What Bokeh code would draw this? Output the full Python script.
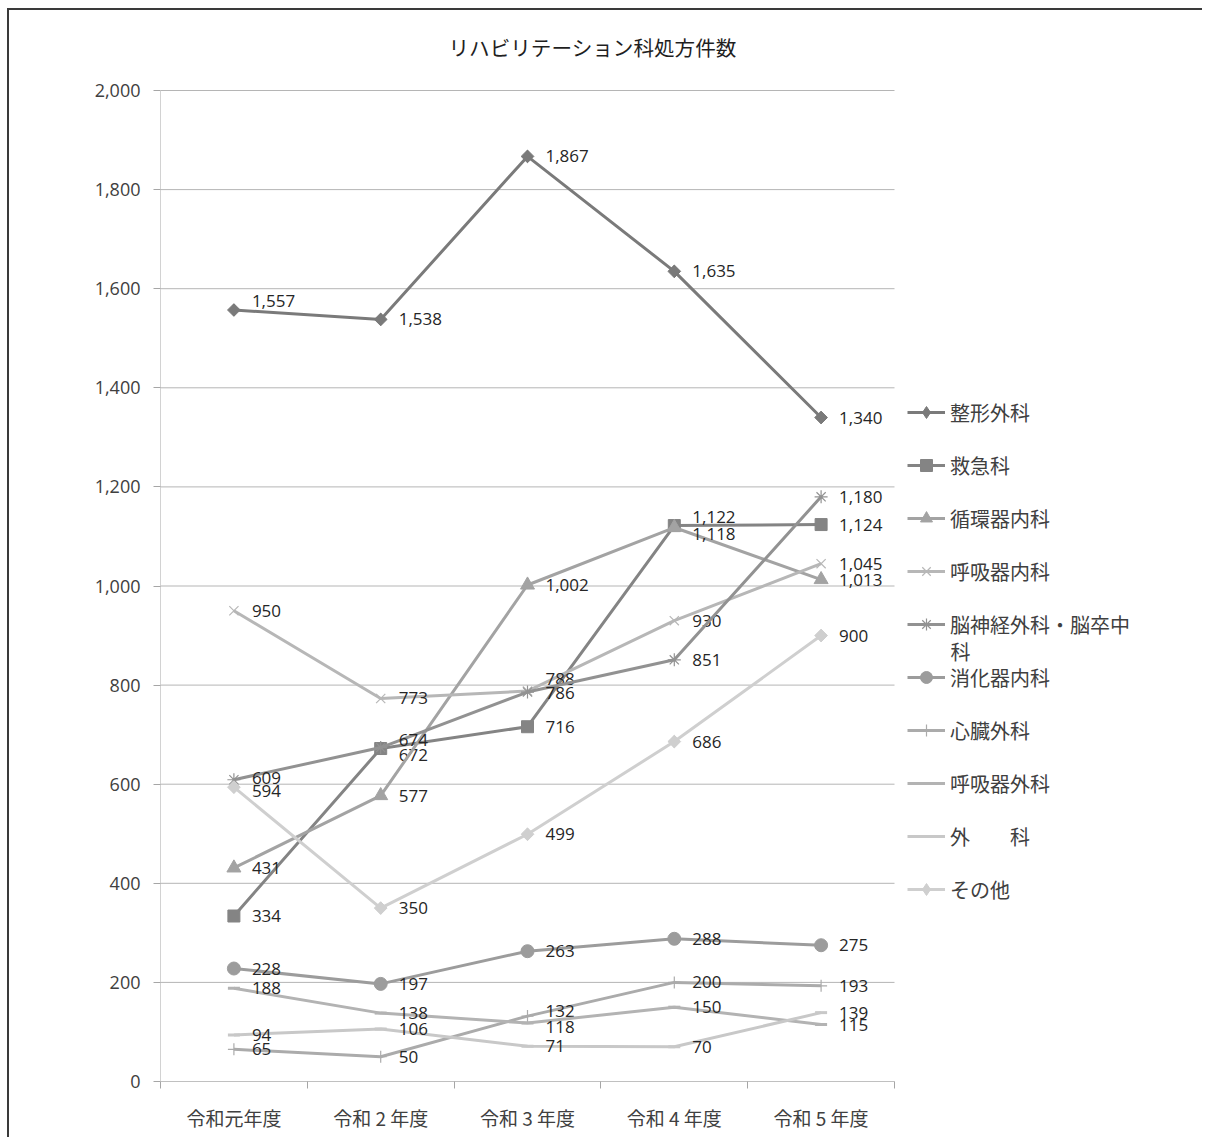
import numpy as np
from bokeh.plotting import figure
from bokeh.models import (ColumnDataSource, FixedTicker, NumeralTickFormatter, Legend,
                          LegendItem, Label, Range1d)
from bokeh.core.properties import value
from bokeh.embed import file_html
from bokeh.resources import INLINE

# ---- data -------------------------------------------------------------
years = ["令和元年度", "令和 2 年度", "令和 3 年度", "令和 4 年度", "令和 5 年度"]

departments = ["整形外科", "救急科", "循環器内科", "呼吸器内科", "脳神経外科・脳卒中科",
               "消化器内科", "心臓外科", "呼吸器外科", "外\u3000\u3000科", "その他"]

seikei_geka = [1557, 1538, 1867, 1635, 1340]
kyukyu = [334, 672, 716, 1122, 1124]
junkanki_naika = [431, 577, 1002, 1118, 1013]
kokyuki_naika = [950, 773, 788, 930, 1045]
noshinkei = [609, 674, 786, 851, 1180]
shokaki_naika = [228, 197, 263, 288, 275]
shinzo_geka = [65, 50, 132, 200, 193]
kokyuki_geka = [188, 138, 118, 150, 115]
geka = [94, 106, 71, 70, 139]
sonota = [594, 350, 499, 686, 900]

series = [seikei_geka, kyukyu, junkanki_naika, kokyuki_naika, noshinkei,
          shokaki_naika, shinzo_geka, kokyuki_geka, geka, sonota]

y_ticks = list(range(0, 2001, 200))
Y_MAX = 2000
N_CAT = len(years)

# ---- styling ----------------------------------------------------------
# (colour, marker, marker size, marker angle, marker line width)
styles = [
    ("#7a7a7a", "square", 9, np.pi / 4, 1),
    ("#848484", "square", 12, 0, 1),
    ("#a3a3a3", "triangle", 14, 0, 1),
    ("#b7b7b7", "x", 13, 0, 1.2),
    ("#929292", "asterisk", 13, 0, 1.2),
    ("#9c9c9c", "circle", 13, 0, 1),
    ("#ababab", "cross", 12, 0, 1.2),
    ("#b3b3b3", "dash", 12, 0, 3),
    ("#c8c8c8", "dash", 12, 0, 3),
    ("#cfcfcf", "square", 9, np.pi / 4, 1),
]

# vertical nudges (px, downwards) for value labels that would collide
label_nudge = {(0, 0): -9, (1, 3): -9, (2, 3): 6, (3, 2): -12, (4, 2): 1,
               (4, 1): -8, (1, 1): 6, (4, 0): -2, (9, 0): 4, (6, 2): -5, (7, 2): 4}

JP = "Noto Sans CJK JP"
NUM = "Open Sans"
AXIS_GREY = "#a6a6a6"
xs = [i + 0.5 for i in range(N_CAT)]

# page geometry (px): the plotting frame also hosts title and legend,
# the value axes occupy only the left part of it
CANVAS_W, CANVAS_H = 1195, 1129
ORIGIN_X, ORIGIN_Y = 9, 10          # canvas offset inside the page (margin + border)
AX_LEFT, AX_RIGHT = 160, 894        # plot area horizontal extent on the page
AX_TOP, AX_BOTTOM = 90, 1081        # plot area vertical extent on the page
frame_right = ORIGIN_X + CANVAS_W
x_end = N_CAT * (frame_right - AX_LEFT) / (AX_RIGHT - AX_LEFT)
y_end = Y_MAX * (AX_BOTTOM - ORIGIN_Y) / (AX_BOTTOM - AX_TOP)

p = figure(width=CANVAS_W, height=CANVAS_H,
           x_range=Range1d(0, x_end), y_range=Range1d(0, y_end),
           output_backend="svg", toolbar_location=None,
           min_border_left=AX_LEFT - ORIGIN_X, min_border_right=0, min_border_top=0,
           min_border_bottom=ORIGIN_Y + CANVAS_H - AX_BOTTOM)
p.margin = (8, 0, 0, 7)
p.styles = {"border-left": "2px solid #3a3a3a", "border-top": "2px solid #3a3a3a"}
p.outline_line_color = None
p.background_fill_color = "white"
p.border_fill_color = "white"

# axes (lines drawn as glyphs so they stop at the plot area's edges)
p.xaxis.ticker = FixedTicker(ticks=xs, minor_ticks=list(range(N_CAT + 1)))
p.xaxis.major_label_overrides = {x: y for x, y in zip(xs, years)}
p.xaxis.major_tick_line_color = None
p.xaxis.major_tick_out = 0
p.xaxis.major_tick_in = 0
p.xaxis.minor_tick_out = 7
p.xaxis.minor_tick_in = 0
p.xaxis.minor_tick_line_color = AXIS_GREY
p.xaxis.axis_line_color = None
p.xaxis.major_label_standoff = 15
p.xaxis.major_label_text_font = JP
p.xaxis.major_label_text_font_size = "19px"
p.xaxis.major_label_text_color = "#404040"

p.yaxis.ticker = FixedTicker(ticks=y_ticks)
p.yaxis.formatter = NumeralTickFormatter(format="0,0")
p.yaxis.major_tick_out = 7
p.yaxis.major_tick_in = 0
p.yaxis.minor_tick_line_color = None
p.yaxis.major_tick_line_color = AXIS_GREY
p.yaxis.axis_line_color = None
p.yaxis.major_label_standoff = 13
p.yaxis.major_label_text_font = NUM
p.yaxis.major_label_text_font_size = "18px"
p.yaxis.major_label_text_color = "#404040"

p.xgrid.grid_line_color = None
p.ygrid.grid_line_color = None

# horizontal gridlines across the plot area only
p.segment(x0=[0] * len(y_ticks), x1=[N_CAT] * len(y_ticks), y0=y_ticks, y1=y_ticks,
          line_color="#b5b5b5", line_width=1)
# axis lines
p.segment(x0=[0, 0], x1=[N_CAT, 0], y0=[0, 0], y1=[0, Y_MAX],
          line_color=AXIS_GREY, line_width=1)

# series lines, markers and value labels
items = []
for k, (vals, name, st) in enumerate(zip(series, departments, styles)):
    color, marker, size, angle, mlw = st
    src = ColumnDataSource(dict(
        x=xs, y=vals,
        txt=[f"{v:,}" for v in vals],
        dy=[label_nudge.get((k, i), 0) for i in range(len(vals))],
    ))
    ln = p.line("x", "y", source=src, line_color=color, line_width=3)
    key_marker = None
    if angle:
        # legend keys ignore rotation: an unrotated diamond (hidden under the
        # rotated square) serves as the legend key
        key_marker = p.scatter("x", "y", source=src, marker="diamond", size=12,
                               fill_color=color, line_color=color)
    sc = p.scatter("x", "y", source=src, marker=marker, size=size, angle=angle,
                   fill_color=color, line_color=color, line_width=mlw)
    if key_marker is None:
        key_marker = sc
    p.text("x", "y", text="txt", source=src, x_offset=18, y_offset="dy",
           text_align="left", text_baseline="middle",
           text_font=value(NUM), text_font_size="17px", text_color="#262626")
    label = "脳神経外科・脳卒中" if k == 4 else name
    items.append(LegendItem(label=label, renderers=[ln, key_marker]))

legend = Legend(items=items, location=(907 - AX_LEFT, 177), orientation="vertical",
                glyph_width=38, glyph_height=30, label_height=30, spacing=23,
                label_standoff=5, padding=0, margin=0,
                border_line_color=None, background_fill_alpha=0,
                label_text_font=JP, label_text_font_size="20px",
                label_text_color="#404040")
p.add_layout(legend)

# wrapped tail of the long legend entry
p.add_layout(Label(x=950 - AX_LEFT, y=AX_BOTTOM - 651, x_units="screen", y_units="screen",
                   text="科", text_font=JP, text_font_size="20px", text_color="#404040",
                   text_baseline="middle"))

# chart title
p.add_layout(Label(x=448 - AX_LEFT, y=AX_BOTTOM - 46, x_units="screen", y_units="screen",
                   text="リハビリテーション科処方件数",
                   text_font=JP, text_font_size="20.6px", text_color="#1f1f1f",
                   text_baseline="middle"))

open("out.html", "w").write(file_html(p, INLINE))
